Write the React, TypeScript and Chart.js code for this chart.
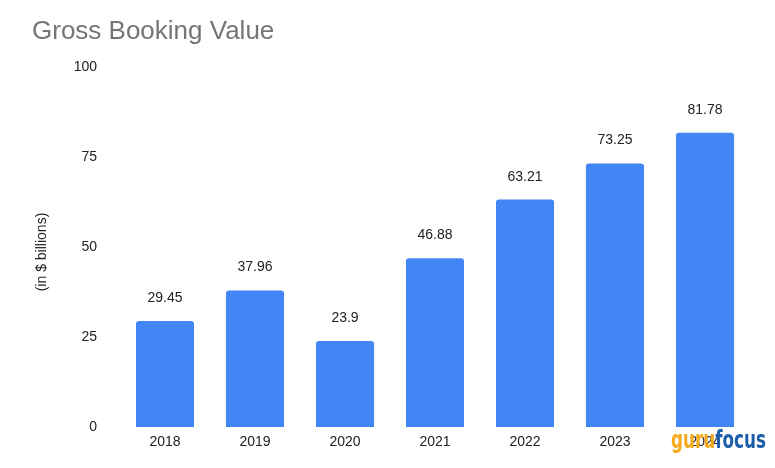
import React, { useEffect, useRef } from "react";
import { Chart, registerables } from "chart.js";

Chart.register(...registerables);

const categories = ["2018", "2019", "2020", "2021", "2022", "2023", "2024"];
const bookingValues = [29.45, 37.96, 23.9, 46.88, 63.21, 73.25, 81.78];
const valueLabels = ["29.45", "37.96", "23.9", "46.88", "63.21", "73.25", "81.78"];
const yTicks = [0, 25, 50, 75, 100];
const yAxisTitle = "(in $ billions)";

const FONT = '"Liberation Sans", Arial, sans-serif';

const valueLabelPlugin = {
  id: "valueLabels",
  afterDatasetsDraw(chart: any) {
    const ctx = chart.ctx;
    const meta = chart.getDatasetMeta(0);
    ctx.save();
    ctx.font = `14px ${FONT}`;
    ctx.fillStyle = "#222222";
    ctx.textAlign = "center";
    ctx.textBaseline = "alphabetic";
    meta.data.forEach((bar: any, i: number) => {
      ctx.fillText(valueLabels[i], bar.x, bar.y - 19);
    });
    ctx.restore();
  },
};

const yTitlePlugin = {
  id: "yTitle",
  afterDraw(chart: any) {
    const ctx = chart.ctx;
    ctx.save();
    ctx.translate(42, 252);
    ctx.rotate(-Math.PI / 2);
    ctx.font = `14px ${FONT}`;
    ctx.fillStyle = "#222222";
    ctx.textAlign = "center";
    ctx.textBaseline = "middle";
    ctx.fillText(yAxisTitle, 0, 0);
    ctx.restore();
  },
};

const watermarkPlugin = {
  id: "watermark",
  afterDraw(chart: any) {
    const ctx = chart.ctx;
    ctx.save();
    ctx.font = `bold 25px "DejaVu Sans", "Liberation Sans", sans-serif`;
    ctx.textBaseline = "alphabetic";
    ctx.textAlign = "left";
    const wGuru = ctx.measureText("guru").width;
    const wFocus = ctx.measureText("focus").width;
    const sx = 95 / (wGuru + wFocus);
    ctx.translate(671, 448);
    ctx.scale(sx, 1);
    ctx.fillStyle = "#F5A91C";
    ctx.fillText("guru", 0, 0);
    ctx.fillStyle = "#1D5EA8";
    ctx.fillText("focus", wGuru, 0);
    ctx.restore();
  },
};

export default function App() {
  const canvasRef = useRef<HTMLCanvasElement | null>(null);

  useEffect(() => {
    if (!canvasRef.current) return;
    const chart = new Chart(canvasRef.current, {
      type: "bar",
      data: {
        labels: categories,
        datasets: [
          {
            data: bookingValues,
            backgroundColor: "#4285F4",
            borderRadius: 3,
            borderSkipped: "bottom",
            barPercentage: 0.645,
            categoryPercentage: 1,
          },
        ],
      },
      options: {
        animation: false,
        responsive: false,
        maintainAspectRatio: false,
        layout: { padding: { left: 32, right: 25, top: 0, bottom: 0 } },
        plugins: {
          legend: { display: false },
          tooltip: { enabled: false },
          title: {
            display: true,
            text: "Gross Booking Value",
            align: "start",
            color: "#757575",
            font: { family: FONT, size: 26, weight: "normal" },
            padding: { top: 16, bottom: 20 },
          },
        },
        scales: {
          x: {
            grid: { display: false, drawTicks: false },
            border: { display: false },
            ticks: {
              color: "#222222",
              font: { family: FONT, size: 14 },
              padding: 7,
              maxRotation: 0,
            },
            afterFit(scale: any) {
              scale.height = 41;
            },
          },
          y: {
            min: 0,
            max: 100,
            afterBuildTicks(scale: any) {
              scale.ticks = yTicks.map((v) => ({ value: v }));
            },
            grid: { display: false, drawTicks: false },
            border: { display: false },
            ticks: {
              color: "#222222",
              font: { family: FONT, size: 14 },
              padding: 23,
            },
            afterFit(scale: any) {
              scale.width = 88;
            },
          },
        },
      },
      plugins: [valueLabelPlugin, yTitlePlugin, watermarkPlugin],
    });
    return () => chart.destroy();
  }, []);

  return (
    <div style={{ position: "fixed", left: 0, top: 0, width: 775, height: 468, background: "#ffffff" }}>
      <canvas ref={canvasRef} width={775} height={468} style={{ width: 775, height: 468 }} />
    </div>
  );
}
